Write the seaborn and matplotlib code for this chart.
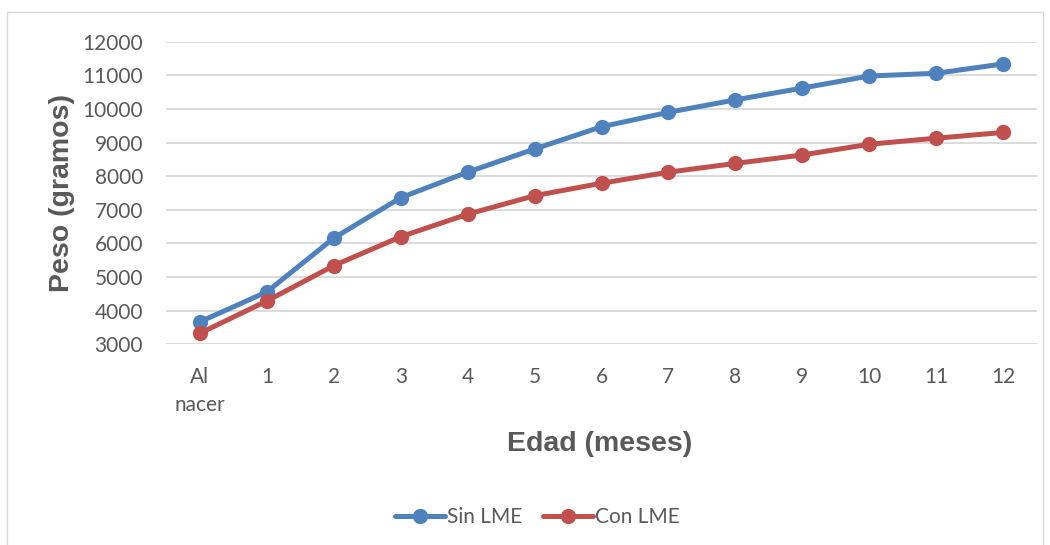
import matplotlib
matplotlib.use("Agg")
import matplotlib.pyplot as plt
import seaborn as sns
import pandas as pd
from matplotlib.patches import Rectangle

# Data
edades = ["Al\nnacer", "1", "2", "3", "4", "5", "6", "7", "8", "9", "10", "11", "12"]
sin_lme = [3670, 4560, 6160, 7360, 8120, 8810, 9470, 9900, 10270, 10620, 10980, 11060, 11340]
con_lme = [3330, 4290, 5340, 6200, 6870, 7420, 7790, 8120, 8380, 8630, 8950, 9130, 9300]
series = ["Sin LME", "Con LME"]
yticks = [3000, 4000, 5000, 6000, 7000, 8000, 9000, 10000, 11000, 12000]

df = pd.DataFrame({
    "Edad": edades * 2,
    "Peso": sin_lme + con_lme,
    "Serie": [series[0]] * len(edades) + [series[1]] * len(edades),
})

sns.set_theme(style="white")
plt.rcParams["font.family"] = ["Lato", "DejaVu Sans"]

fig = plt.figure(figsize=(10.5, 5.45), dpi=100)
ax = fig.add_axes([166.5 / 1050, 1 - 344.3 / 545, 870 / 1050, 302.6 / 545])

palette = {"Sin LME": "#4F81BD", "Con LME": "#C0504D"}
sns.lineplot(data=df, x="Edad", y="Peso", hue="Serie", palette=palette,
             marker="o", markersize=11, markeredgewidth=0, linewidth=3.6,
             sort=False, ax=ax)

ax.set_xlim(-0.5, len(edades) - 0.5)
ax.set_ylim(3000, 12000)
ax.set_yticks(yticks)
ax.set_yticklabels([str(v) for v in yticks])
ax.set_xticks(range(len(edades)))
ax.set_xticklabels(edades, linespacing=1.5)

ax.grid(axis="y", color="#D9D9D9", linewidth=1.3)
ax.set_axisbelow(True)
for s in ax.spines.values():
    s.set_visible(False)

ax.tick_params(axis="both", length=0, labelsize=15, labelcolor="#595959")
ax.tick_params(axis="y", pad=17)
ax.tick_params(axis="x", pad=16)
for t in ax.get_xticklabels():
    t.set_va("top")

ax.set_xlabel("Edad (meses)", fontsize=20.5, fontweight="bold", color="#595959",
              family=["Liberation Sans", "DejaVu Sans"])
ax.xaxis.set_label_coords(0.498, -0.328)
ax.xaxis.label.set_va("center")
ax.set_ylabel("Peso (gramos)", fontsize=20.5, fontweight="bold", color="#595959",
              family=["Liberation Sans", "DejaVu Sans"])
ax.yaxis.set_label_coords(-0.120, 0.5)
ax.yaxis.label.set_va("center")

handles, labels = ax.get_legend_handles_labels()
if ax.legend_:
    ax.legend_.remove()
leg = fig.legend(handles, labels, loc="center", bbox_to_anchor=(537 / 1050, 1 - 517 / 545),
                 ncol=2, frameon=False, fontsize=15, handlelength=2.4,
                 columnspacing=1.0, handletextpad=0.1)
for t in leg.get_texts():
    t.set_color("#595959")

fig.patches.append(Rectangle((7 / 1050, -0.02), 1036 / 1050, (545 - 12) / 545 + 0.02,
                             transform=fig.transFigure, fill=False,
                             edgecolor="#D9D9D9", linewidth=1.0))

fig.savefig("out.png", dpi=100, facecolor="white")
